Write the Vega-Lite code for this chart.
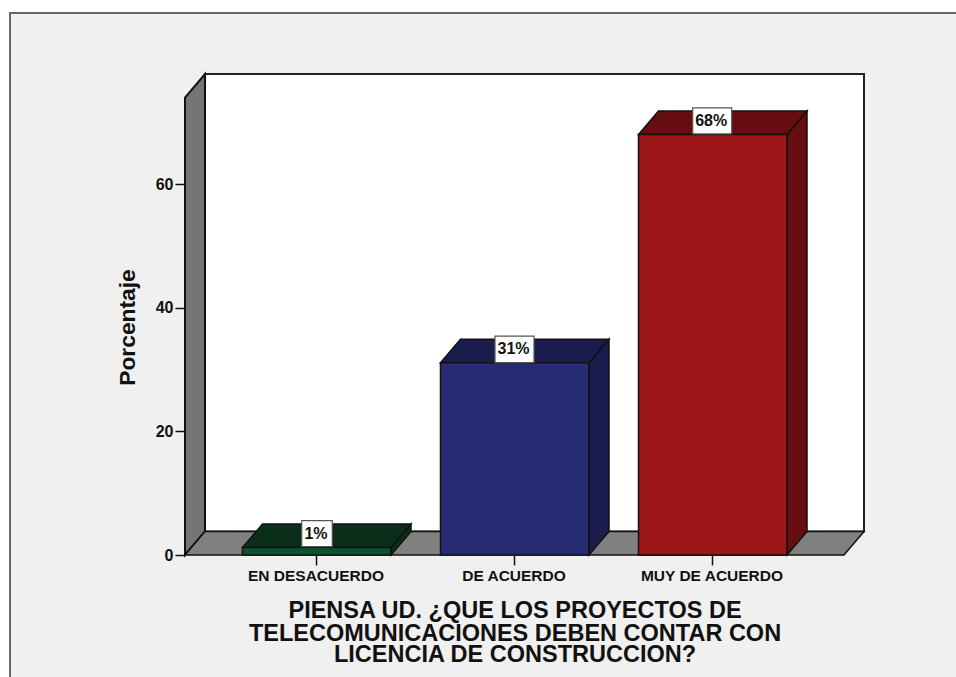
{
"$schema":"https://vega.github.io/schema/vega-lite/v6.json",
"width":679,"height":481,"autosize":{"type":"none"},
"padding":{"left":185,"top":74,"right":92,"bottom":122},
"background":"#ffffff",
"view":{"stroke":null},
"config":{"font":"Liberation Sans"},
"datasets":{
"panel":[{"x0":-175,"x1":780,"y0":-21,"y1":87.66}],
"wall":[{"x0":20,"x1":679,"y0":3.8,"y1":77.79}],
"bars":[
{"cat":"EN DESACUERDO","part":"EN DESACUERDO frente","pct":1.2,"zero":0,"x0":57.5,"x1":206},
{"cat":"DE ACUERDO","part":"DE ACUERDO frente","pct":31.1,"zero":0,"x0":255.5,"x1":404},
{"cat":"MUY DE ACUERDO","part":"MUY DE ACUERDO frente","pct":68,"zero":0,"x0":453.5,"x1":602}],
"vfaces":[
{"face":"pared","part":"pared","x":0,"y":0,"y2":73.99},
{"face":"pared","part":"pared","x":20,"y":3.8,"y2":77.79},
{"face":"g","part":"EN DESACUERDO fondo","x":206,"y":0,"y2":1.2},
{"face":"g","part":"EN DESACUERDO fondo","x":226,"y":3.8,"y2":5},
{"face":"b","part":"DE ACUERDO fondo","x":404,"y":0,"y2":31.1},
{"face":"b","part":"DE ACUERDO fondo","x":424,"y":3.8,"y2":34.9},
{"face":"r","part":"MUY DE ACUERDO fondo","x":602,"y":0,"y2":68},
{"face":"r","part":"MUY DE ACUERDO fondo","x":622,"y":3.8,"y2":71.8}],
"hfaces":[
{"face":"suelo","part":"suelo","y":0,"x":0,"x2":659},
{"face":"suelo","part":"suelo","y":3.8,"x":20,"x2":679},
{"face":"g","part":"EN DESACUERDO fondo","y":1.2,"x":57.5,"x2":206},
{"face":"g","part":"EN DESACUERDO fondo","y":5,"x":77.5,"x2":226},
{"face":"b","part":"DE ACUERDO fondo","y":31.1,"x":255.5,"x2":404},
{"face":"b","part":"DE ACUERDO fondo","y":34.9,"x":275.5,"x2":424},
{"face":"r","part":"MUY DE ACUERDO fondo","y":68,"x":453.5,"x2":602},
{"face":"r","part":"MUY DE ACUERDO fondo","y":71.8,"x":473.5,"x2":622}],
"labels":[
{"label":"1%","x0":116.7,"x1":147.3,"y0":1.34,"y1":5.55,"xc":131,"yc":3.45},
{"label":"31%","x0":310,"x1":349,"y0":31.1,"y1":35.4,"xc":328.5,"yc":33.25},
{"label":"68%","x0":507.7,"x1":546.7,"y0":68.1,"y1":72.3,"xc":526.2,"yc":70.2}],
"title":[
{"line":"PIENSA UD. ¿QUE LOS PROYECTOS DE","x":330,"y":-9.1},
{"line":"TELECOMUNICACIONES DEBEN CONTAR CON","x":330,"y":-12.8},
{"line":"LICENCIA DE CONSTRUCCION?","x":330,"y":-16.2}]
},
"layer":[
{"data":{"name":"panel"},"mark":{"type":"rect","fill":"#f0f0f0","stroke":"#666666","strokeWidth":2,"clip":false},
"encoding":{
"x":{"field":"x0","type":"quantitative","scale":{"domain":[0,679],"nice":false,"zero":false},
"axis":{"zindex":1,"values":[130.5,328.5,526.5],"labelExpr":"datum.value==130.5?'EN DESACUERDO':datum.value==328.5?'DE ACUERDO':'MUY DE ACUERDO'","title":null,"grid":false,"domain":false,"tickSize":10,"tickColor":"#111111","tickWidth":1.5,"labelFont":"Liberation Sans","labelFontWeight":"bold","labelFontSize":15.5,"labelColor":"#111111","labelPadding":3}},
"x2":{"field":"x1"},
"y":{"field":"y0","type":"quantitative","scale":{"domain":[0,77.79],"nice":false,"zero":false},
"axis":{"zindex":1,"values":[0,20,40,60],"title":"Porcentaje","titleFont":"Liberation Sans","titleFontWeight":"bold","titleFontSize":22.8,"titleColor":"#111111","titleX":-46,"titleY":253,"grid":false,"domain":false,"tickSize":10,"tickColor":"#111111","tickWidth":1.5,"labelFont":"Liberation Sans","labelFontWeight":"bold","labelFontSize":16,"labelColor":"#111111","labelPadding":2}},
"y2":{"field":"y1"}}},
{"data":{"name":"wall"},"mark":{"type":"rect","fill":"#ffffff","stroke":"#222222","strokeWidth":2},
"encoding":{"x":{"field":"x0","type":"quantitative"},"x2":{"field":"x1"},"y":{"field":"y0","type":"quantitative"},"y2":{"field":"y1"}}},
{"data":{"name":"vfaces"},"transform":[{"filter":"datum.part=='pared'"}],"mark":{"type":"area","stroke":"#111111","strokeWidth":2,"opacity":1},
"encoding":{"x":{"field":"x","type":"quantitative"},"y":{"field":"y","type":"quantitative"},"y2":{"field":"y2"},"detail":{"field":"face"},
"color":{"field":"part","type":"nominal","legend":null}}},
{"data":{"name":"hfaces"},"transform":[{"filter":"datum.part=='suelo'"}],"mark":{"type":"area","orient":"horizontal","stroke":"#111111","strokeWidth":1.5,"opacity":1},
"encoding":{"y":{"field":"y","type":"quantitative"},"x":{"field":"x","type":"quantitative"},"x2":{"field":"x2"},"detail":{"field":"face"},
"color":{"field":"part","type":"nominal","legend":null}}},
{"data":{"name":"vfaces"},"transform":[{"filter":"datum.part!='pared'"}],"mark":{"type":"area","stroke":"#111111","strokeWidth":1.5,"opacity":1},
"encoding":{"x":{"field":"x","type":"quantitative"},"y":{"field":"y","type":"quantitative"},"y2":{"field":"y2"},"detail":{"field":"face"},
"color":{"field":"part","type":"nominal","legend":null}}},
{"data":{"name":"hfaces"},"transform":[{"filter":"datum.part!='suelo'"}],"mark":{"type":"area","orient":"horizontal","stroke":"#111111","strokeWidth":1.5,"opacity":1},
"encoding":{"y":{"field":"y","type":"quantitative"},"x":{"field":"x","type":"quantitative"},"x2":{"field":"x2"},"detail":{"field":"face"},
"color":{"field":"part","type":"nominal","legend":null}}},
{"data":{"name":"bars"},"mark":{"type":"rect","stroke":"#111111","strokeWidth":1.5,"opacity":1},
"encoding":{"x":{"field":"x0","type":"quantitative"},"x2":{"field":"x1"},"y":{"field":"pct","type":"quantitative"},"y2":{"field":"zero"},
"color":{"field":"part","type":"nominal","legend":null,"scale":{
"domain":["pared","suelo","EN DESACUERDO frente","EN DESACUERDO fondo","DE ACUERDO frente","DE ACUERDO fondo","MUY DE ACUERDO frente","MUY DE ACUERDO fondo"],
"range":["#757575","#808080","#0f5230","#0b2e1a","#262b72","#191c4d","#9e1518","#650d10"]}}}},
{"data":{"name":"labels"},"mark":{"type":"rect","fill":"#ffffff","stroke":"#555555","strokeWidth":1.2},
"encoding":{"x":{"field":"x0","type":"quantitative"},"x2":{"field":"x1"},"y":{"field":"y0","type":"quantitative"},"y2":{"field":"y1"}}},
{"data":{"name":"labels"},"mark":{"type":"text","font":"Liberation Sans","fontWeight":"bold","fontSize":16,"color":"#111111","align":"center","baseline":"middle"},
"encoding":{"x":{"field":"xc","type":"quantitative"},"y":{"field":"yc","type":"quantitative"},"text":{"field":"label"}}},
{"data":{"name":"title"},"mark":{"type":"text","font":"Liberation Sans","fontWeight":"bold","fontSize":23.5,"color":"#111111","align":"center","baseline":"middle","clip":false},
"encoding":{"x":{"field":"x","type":"quantitative"},"y":{"field":"y","type":"quantitative"},"text":{"field":"line"}}}
]
}
